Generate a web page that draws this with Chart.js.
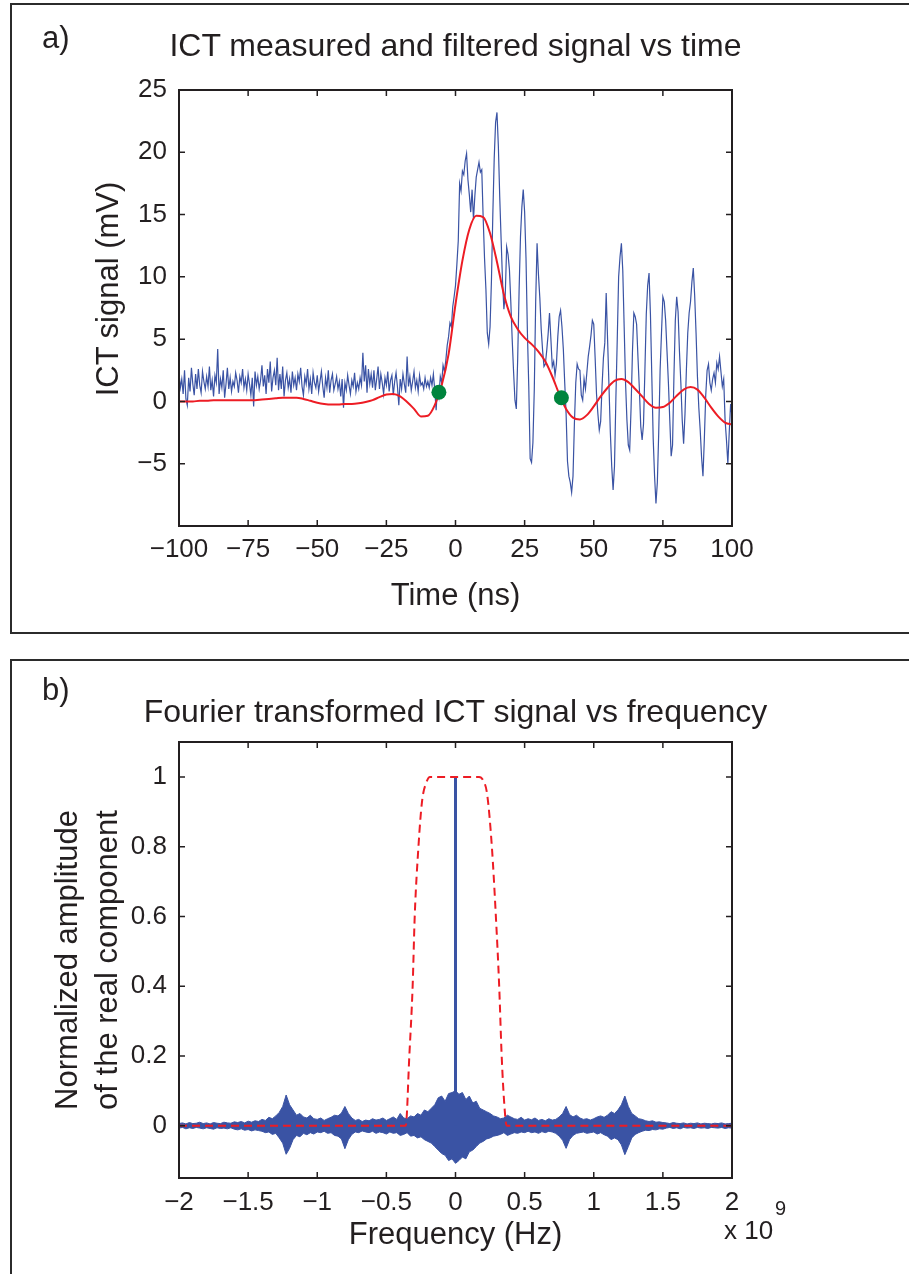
<!DOCTYPE html>
<html>
<head>
<meta charset="utf-8">
<title>ICT signal</title>
<script src="https://cdn.jsdelivr.net/npm/chart.js@4.4.1/dist/chart.umd.min.js"></script>
<style>
  html, body { margin: 0; padding: 0; background: #fff; }
  body { width: 909px; height: 1274px; position: relative; overflow: hidden;
         font-family: 'Liberation Sans', Arial, Helvetica, sans-serif; color: #231f20; }
  .panel { position: absolute; left: 10px; width: 940px; border: 2px solid #2b2b2b; box-sizing: border-box; }
  #panel-a { top: 3px; height: 631px; }
  #panel-b { top: 659px; height: 700px; }
  .wrap { position: absolute; left: 0; width: 909px; }
  #wrap-a { top: 0; height: 640px; }
  #wrap-b { top: 640px; height: 634px; }
  .tag { position: absolute; font-size: 31px; line-height: 31px; white-space: nowrap; }
  .head { position: absolute; left: 0; width: 911px; text-align: center; font-size: 32px; line-height: 32px; white-space: nowrap; }
  .ylab { position: absolute; width: 320px; height: 36px; line-height: 36px; font-size: 31px; text-align: center;
          white-space: nowrap; transform: rotate(-90deg); }
</style>
</head>
<body>
<div class="panel" id="panel-a"></div>
<div class="panel" id="panel-b"></div>
<div class="wrap" id="wrap-a"><canvas id="chart-a" width="909" height="640"></canvas></div>
<div class="wrap" id="wrap-b"><canvas id="chart-b" width="909" height="634"></canvas></div>
<div class="tag" style="left:42px; top:22px;">a)</div>
<div class="head" style="top:29px;">ICT measured and filtered signal vs time</div>
<div class="ylab" style="left:-52px; top:271px;">ICT signal (mV)</div>
<div class="tag" style="left:42px; top:674px;">b)</div>
<div class="head" style="top:695px;">Fourier transformed ICT signal vs frequency</div>
<div class="tag" style="left:724px; top:1217px; font-size:26px; line-height:26px;">x 10</div>
<div class="tag" style="left:775px; top:1198px; font-size:20px; line-height:20px;">9</div>

<script>
// ---- data: panel a (time domain, ns / mV) ----
const tStart = -100;       // first sample of the measured trace (ns)
const tStep = 0.5;         // sample spacing of the measured trace (ns)
const measured = [
  2.3, 1.1, 1.8, 0.6, 2.5, 0.2, -0.3, 1.9, 0.8, 2.7, 1.4, 0.5, 2.2, 1.0, 2.6, 1.3, 0.7, 2.4, 1.6, 1.0,
  2.0, 1.2, 2.8, 0.9, 1.7, 0.4, 2.1, 1.5, 4.2, 0.6, 1.8, 1.1, 2.5, 0.3, 1.4, 2.7, 1.0, 1.9, 0.8, 1.6,
  1.2, 2.3, 1.7, 0.7, 2.0, 1.5, 2.6, 1.1, 1.8, 0.9, 2.2, 1.4, 0.5, 1.9, -0.4, 2.4, 1.3, 2.0, 1.0, 1.7,
  2.9, 1.2, 2.1, 0.6, 2.6, 1.5, 3.2, 0.8, 1.9, 2.5, 1.3, 3.5, 0.9, 2.2, 1.0, 2.8, 0.4, 1.7, 2.3, 1.1,
  1.8, 0.7, 2.4, 1.3, 1.9, 0.9, 2.2, 1.6, 2.7, 1.2, 0.5, 2.0, 1.4, 2.6, 1.0, 1.8, 0.6, 2.3, 1.5, 1.1,
  2.1, 0.8, 1.6, 2.4, 1.2, 0.3, 1.9, 1.1, 2.5, 0.7, 1.7, 2.2, 0.9, 1.4, 2.0, 1.0, 1.6, 0.4, 1.8, -0.5,
  1.5, 0.9, 2.1, 1.3, 0.6, 1.7, 1.2, 2.3, 0.8, 1.5, 1.0, 1.9, 1.3, 3.9, 1.6, 2.9, 0.7, 2.6, 1.4, 2.2,
  1.1, 2.5, 0.9, 1.8, 2.8, 1.0, 2.2, 1.5, 0.6, 1.9, 1.3, 2.4, 0.8, 1.7, 2.1, 0.5, 1.6, 2.3, 1.2, -0.3,
  1.8, 1.0, 2.2, 1.4, 0.7, 3.6, 1.2, 2.0, 0.9, 1.6, 2.4, 1.1, 1.7, 0.8, 2.1, 1.3, 1.5, 1.0, 1.9, 1.2,
  1.6, 1.1, 1.9, 1.3, 2.2, 0.9, -0.7, 1.2, 0.4, 2.0, 1.5, 2.9, 2.4, 3.3, 4.5, 5.2, 6.3, 6.0, 7.6, 8.4,
  9.3, 11.0, 12.9, 17.5, 16.9, 18.5, 18.2, 19.3, 19.9, 17.8, 16.6, 15.2, 17.0, 14.6, 16.5, 18.0, 18.6, 19.2, 18.4, 18.6,
  14.8, 11.5, 9.0, 5.5, 4.6, 6.0, 9.7, 15.0, 19.5, 22.4, 23.2, 20.5, 16.4, 13.0, 9.7, 7.4, 8.6, 12.4, 11.8, 10.6,
  8.0, 5.0, 2.4, 0.1, -0.6, 3.5, 8.9, 13.2, 15.6, 17.0, 15.2, 11.5, 5.6, 1.2, -4.6, -4.9, -3.3, 1.0, 8.0, 12.7,
  10.2, 8.3, 5.8, 4.1, 2.8, 3.0, 4.1, 5.4, 7.1, 5.0, 2.8, 3.2, 2.1, 3.0, 5.2, 6.8, 7.3, 6.0, 4.2, 1.5,
  -1.0, -4.8, -6.0, -6.5, -7.3, -6.0, -1.8, 1.5, 3.0, 2.6, 2.5, 0.5, 0.1, 1.8, 1.0, 2.3, 3.6, 4.4, 5.3, 6.5,
  6.2, 3.5, 0.6, -1.0, -2.3, -1.6, 1.2, 3.5, 4.7, 8.7, 5.0, 1.3, -2.5, -5.2, -7.1, -5.2, 0.2, 5.0, 10.0, 11.6,
  12.7, 10.5, 6.0, 1.5, -1.5, -3.5, -3.9, -0.5, 4.0, 7.1, 6.8, 6.2, 3.5, 1.0, -2.0, -3.1, -1.8, 2.5, 7.0, 9.3,
  10.3, 7.0, 2.0, -3.0, -6.0, -8.2, -6.5, -2.5, 2.5, 5.5, 8.4, 8.0, 6.5, 4.0, 1.5, -1.5, -4.4, -3.5, 2.0, 6.5,
  8.4, 7.2, 4.0, 1.5, -1.5, -3.4, -1.0, 2.5, 5.5, 7.1, 8.0, 9.6, 10.7, 8.5, 5.5, 2.0, -0.5, -2.3, -4.5, -6.0,
  -3.0, 0.5, 2.5, 3.0, 1.5, 0.9, 1.8, 2.3, 1.5, 3.1, 2.6, 3.6, 2.4, 1.2, 1.8, -1.5, -3.1, -5.0, -2.5, -0.2,
  -1.2
];

const fStep = 2.5;         // spacing of the filtered trace (ns)
const filtered = [
  0.0, 0.0, 0.0, 0.05, 0.05, 0.1, 0.1, 0.1, 0.1, 0.1,
  0.1, 0.1, 0.15, 0.2, 0.25, 0.3, 0.3, 0.3, 0.2, 0.05,
  -0.1, -0.2, -0.25, -0.25, -0.2, -0.2, -0.15, -0.05, 0.1, 0.35,
  0.55, 0.6, 0.4, -0.05, -0.6, -1.2, -1.15, -0.3, 1.3, 3.8,
  7.8, 11.3, 13.8, 14.9, 14.8, 13.5, 11.2, 8.6, 6.8, 5.8,
  5.1, 4.6, 4.0, 3.2, 2.0, 0.6, -0.6, -1.3, -1.45, -1.1,
  -0.4, 0.4, 1.1, 1.65, 1.8, 1.55, 1.0, 0.4, -0.2, -0.5,
  -0.45, -0.1, 0.45, 0.95, 1.15, 0.95, 0.3, -0.5, -1.2, -1.7,
  -1.85
];

// pulse start / end picked on the filtered trace
const markTime = [-6, 38.3];
const markValue = [0.74, 0.3];

const xTicksA = [-100, -75, -50, -25, 0, 25, 50, 75, 100];
const yTicksA = [-5, 0, 5, 10, 15, 20, 25];

// ---- data: panel b (frequency domain, 1e9 Hz / normalized) ----
const sStart = -2;
const sStep = 0.025;
// the spectrum oscillates too fast to resolve, so it is kept as its upper / lower envelope
const specUpper = [
  0.006, 0.008, 0.005, 0.009, 0.006, 0.007, 0.010, 0.006, 0.008, 0.005,
  0.009, 0.007, 0.006, 0.010, 0.008, 0.007, 0.011, 0.009, 0.012, 0.008,
  0.013, 0.010, 0.014, 0.012, 0.018, 0.015, 0.024, 0.020, 0.028, 0.038,
  0.055, 0.088, 0.060, 0.045, 0.030, 0.035, 0.025, 0.022, 0.030, 0.020,
  0.018, 0.022, 0.015, 0.020, 0.024, 0.030, 0.028, 0.036, 0.055, 0.035,
  0.022, 0.015, 0.018, 0.012, 0.016, 0.014, 0.020, 0.016, 0.018, 0.022,
  0.015, 0.020, 0.025, 0.018, 0.035, 0.022, 0.020, 0.028, 0.025, 0.035,
  0.030, 0.045, 0.040, 0.050, 0.060, 0.080, 0.085, 0.070, 0.092, 0.095,
  0.100, 0.090, 0.095, 0.075, 0.085, 0.065, 0.070, 0.050, 0.045, 0.040,
  0.035, 0.028, 0.025, 0.020, 0.022, 0.030, 0.025, 0.020, 0.018, 0.024,
  0.016, 0.020, 0.017, 0.022, 0.015, 0.018, 0.014, 0.020, 0.016, 0.018,
  0.025, 0.035, 0.055, 0.032, 0.025, 0.030, 0.022, 0.018, 0.020, 0.016,
  0.020, 0.025, 0.028, 0.024, 0.030, 0.040, 0.035, 0.045, 0.060, 0.085,
  0.055, 0.035, 0.028, 0.020, 0.018, 0.014, 0.012, 0.014, 0.010, 0.011,
  0.009, 0.008, 0.006, 0.009, 0.007, 0.006, 0.008, 0.005, 0.007, 0.006,
  0.008, 0.005, 0.007, 0.006, 0.005, 0.007, 0.006, 0.008, 0.005, 0.006,
  0.007
];
const specLower = [
  -0.007, -0.005, -0.009, -0.006, -0.008, -0.005, -0.007, -0.009, -0.006, -0.008,
  -0.010, -0.006, -0.008, -0.007, -0.009, -0.006, -0.010, -0.012, -0.009, -0.013,
  -0.011, -0.015, -0.012, -0.014, -0.016, -0.020, -0.018, -0.025, -0.022, -0.035,
  -0.050, -0.082, -0.065, -0.040, -0.028, -0.032, -0.022, -0.026, -0.020, -0.024,
  -0.018, -0.020, -0.016, -0.022, -0.020, -0.028, -0.030, -0.038, -0.066, -0.040,
  -0.025, -0.018, -0.020, -0.015, -0.018, -0.020, -0.016, -0.022, -0.018, -0.020,
  -0.024, -0.018, -0.022, -0.020, -0.028, -0.025, -0.020, -0.030, -0.028, -0.035,
  -0.032, -0.040, -0.045, -0.050, -0.060, -0.070, -0.080, -0.085, -0.100, -0.095,
  -0.108, -0.100, -0.090, -0.095, -0.075, -0.070, -0.060, -0.050, -0.045, -0.038,
  -0.035, -0.030, -0.028, -0.025, -0.020, -0.028, -0.024, -0.020, -0.022, -0.018,
  -0.020, -0.016, -0.020, -0.018, -0.022, -0.017, -0.020, -0.016, -0.018, -0.022,
  -0.030, -0.042, -0.065, -0.040, -0.028, -0.022, -0.020, -0.018, -0.022, -0.020,
  -0.018, -0.024, -0.020, -0.026, -0.030, -0.040, -0.035, -0.040, -0.055, -0.083,
  -0.060, -0.035, -0.025, -0.020, -0.016, -0.013, -0.014, -0.011, -0.012, -0.009,
  -0.010, -0.007, -0.005, -0.008, -0.006, -0.009, -0.005, -0.007, -0.006, -0.008,
  -0.005, -0.007, -0.006, -0.008, -0.005, -0.006, -0.007, -0.005, -0.008, -0.006,
  -0.007
];
// DC component
const dcFreq = [0, 0];
const dcValue = [0, 1];

// band-pass filter window (dashed)
const filterFreq = [-2, -0.36, -0.334, -0.31, -0.295, -0.268, -0.242, -0.21, -0.185, 0.17, 0.2, 0.229, 0.263, 0.292, 0.316, 0.334, 0.355, 0.37, 2];
const filterGain = [0, 0, 0.2, 0.4, 0.6, 0.8, 0.93, 0.985, 1, 1, 0.99, 0.95, 0.8, 0.6, 0.4, 0.2, 0.05, 0, 0];

const xTicksB = [-2, -1.5, -1, -0.5, 0, 0.5, 1, 1.5, 2];
const yTicksB = [0, 0.2, 0.4, 0.6, 0.8, 1];

// ---- style ----
const INK = '#231f20';
const BLUE = '#3a53a4';
const RED = '#ed1c24';
const GREEN = '#00843d';
const FONT = "'Liberation Sans', Arial, Helvetica, sans-serif";

Chart.defaults.font.family = FONT;
Chart.defaults.color = INK;
Chart.defaults.animation = false;

const minus = v => (v < 0 ? '\u2212' : '') + Math.abs(v);

// MATLAB style box with inward ticks on all four sides
const boxTicks = {
  id: 'boxTicks',
  afterDatasetsDraw(chart) {
    const { ctx, chartArea: a, scales } = chart;
    const len = 6;
    ctx.save();
    ctx.strokeStyle = INK;
    ctx.lineWidth = 1.5;
    ctx.beginPath();
    scales.x.ticks.forEach(t => {
      const px = scales.x.getPixelForValue(t.value);
      ctx.moveTo(px, a.bottom); ctx.lineTo(px, a.bottom - len);
      ctx.moveTo(px, a.top); ctx.lineTo(px, a.top + len);
    });
    scales.y.ticks.forEach(t => {
      const py = scales.y.getPixelForValue(t.value);
      ctx.moveTo(a.left, py); ctx.lineTo(a.left + len, py);
      ctx.moveTo(a.right, py); ctx.lineTo(a.right - len, py);
    });
    ctx.stroke();
    ctx.lineWidth = 2;
    ctx.strokeRect(a.left, a.top, a.right - a.left, a.bottom - a.top);
    ctx.restore();
  }
};

function axisX(min, max, ticks, fitHeight, titleText, titlePad, tickPad) {
  return {
    type: 'linear', min: min, max: max,
    grid: { display: false }, border: { display: false },
    afterBuildTicks: s => { s.ticks = ticks.map(v => ({ value: v })); },
    afterFit: s => { s.height = fitHeight; },
    ticks: { padding: tickPad, maxRotation: 0, font: { size: 26 }, callback: v => minus(v) },
    title: { display: true, text: titleText, font: { size: 31 }, padding: { top: 0, bottom: titlePad } }
  };
}

function axisY(min, max, ticks, fitWidth, titleText, titlePad, lineHeight) {
  return {
    type: 'linear', min: min, max: max,
    grid: { display: false }, border: { display: false },
    afterBuildTicks: s => { s.ticks = ticks.map(v => ({ value: v })); },
    afterFit: s => { s.width = fitWidth; },
    ticks: { padding: 4, font: { size: 26 }, callback: v => minus(v) },
    title: { display: titleText !== null, text: titleText || '', font: { size: 31, lineHeight: lineHeight }, padding: { top: titlePad, bottom: 0 } }
  };
}

// Panel a: measured and filtered ICT signal
const measuredPts = measured.map((v, i) => ({ x: tStart + i * tStep, y: v }));
const filteredPts = filtered.map((v, i) => ({ x: tStart + i * fStep, y: v }));
const markPts = markTime.map((t, i) => ({ x: t, y: markValue[i] }));

new Chart(document.getElementById('chart-a'), {
  type: 'line',
  data: {
    datasets: [{
      label: 'pulse limits',
      data: markPts,
      showLine: false,
      pointRadius: 7.5,
      pointBackgroundColor: GREEN,
      pointBorderWidth: 0,
      order: 0
    },
    {
      label: 'filtered',
      data: filteredPts,
      borderColor: RED,
      borderWidth: 2,
      pointRadius: 0,
      cubicInterpolationMode: 'monotone',
      order: 1
    },
    {
      label: 'measured',
      data: measuredPts,
      borderColor: BLUE,
      borderWidth: 1.2,
      pointRadius: 0,
      tension: 0,
      order: 2
    }]
  },
  options: {
    responsive: false,
    devicePixelRatio: 1,
    layout: { padding: { left: 0, right: 177, top: 90, bottom: 0 } },
    scales: {
      x: axisX(-100, 100, xTicksA, 114, 'Time (ns)', 25.4, 0),
      y: axisY(-10, 25, yTicksA, 179, null, 0, 1.2)
    },
    plugins: {
      legend: { display: false },
      tooltip: { enabled: false }
    }
  },
  plugins: [boxTicks]
});

// Panel b: spectrum and filter window
const upperPts = specUpper.map((v, i) => ({ x: sStart + i * sStep, y: v }));
const lowerPts = specLower.map((v, i) => ({ x: sStart + i * sStep, y: v }));
const dcPts = dcFreq.map((f, i) => ({ x: f, y: dcValue[i] }));
const filterPts = filterFreq.map((f, i) => ({ x: f, y: filterGain[i] }));

new Chart(document.getElementById('chart-b'), {
  type: 'line',
  data: {
    datasets: [{
      label: 'filter',
      data: filterPts,
      borderColor: RED,
      borderWidth: 2,
      borderDash: [8, 5],
      pointRadius: 0,
      cubicInterpolationMode: 'monotone',
      order: 0
    },
    {
      label: 'dc',
      data: dcPts,
      borderColor: BLUE,
      borderWidth: 3,
      pointRadius: 0,
      order: 1
    },
    {
      label: 'upper',
      data: upperPts,
      borderColor: BLUE,
      borderWidth: 1,
      backgroundColor: BLUE,
      fill: '+1',
      pointRadius: 0,
      tension: 0,
      order: 2
    },
    {
      label: 'lower',
      data: lowerPts,
      borderColor: BLUE,
      borderWidth: 1,
      pointRadius: 0,
      tension: 0,
      order: 3
    }]
  },
  options: {
    responsive: false,
    devicePixelRatio: 1,
    layout: { padding: { left: 0, right: 177, top: 102, bottom: 0 } },
    scales: {
      x: axisX(-2, 2, xTicksB, 96, 'Frequency (Hz)', 20.4, 1),
      y: axisY(-0.15, 1.1, yTicksB, 179, ['Normalized amplitude', 'of the real component'], 47.9, 1.3)
    },
    plugins: {
      legend: { display: false },
      tooltip: { enabled: false },
      filler: { propagate: false }
    }
  },
  plugins: [boxTicks]
});
</script>
</body>
</html>
